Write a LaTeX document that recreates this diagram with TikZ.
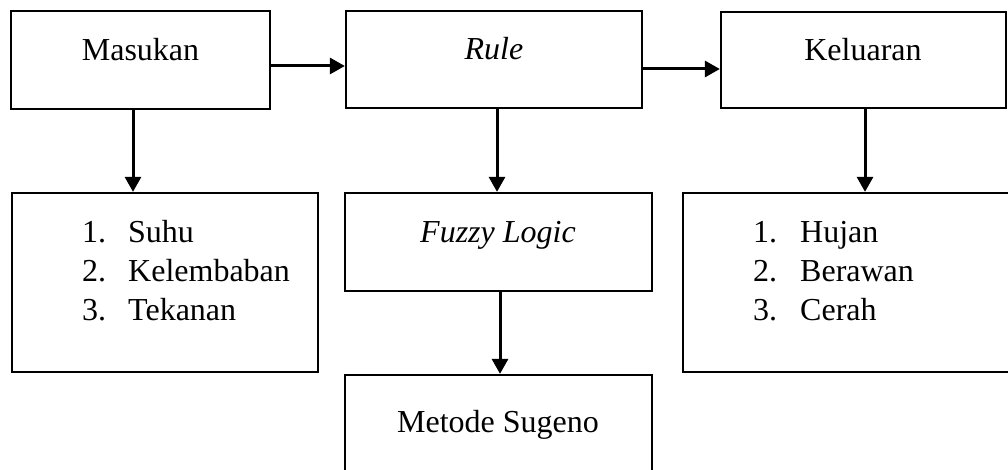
\documentclass[tikz,border=0pt]{standalone}
\usepackage{fontspec}
\setmainfont{Liberation Serif}
\usetikzlibrary{arrows.meta}
\begin{document}
\begin{tikzpicture}[x=1pt,y=-1pt,
  box/.style={draw=black,line width=2.3pt,rectangle,inner sep=0pt},
  lbl/.style={anchor=base,inner sep=0pt,font=\fontsize{32}{39}\selectfont},
  itm/.style={anchor=base west,inner sep=0pt,font=\fontsize{32}{39}\selectfont},
  conn/.style={line width=3pt,-{Triangle[length=15pt,width=16pt]}}]
\useasboundingbox (0,0) rectangle (1008,470);
\begin{scope}
\clip (0,0) rectangle (1008,470);
% boxes
\node[box,minimum width=259pt,minimum height=98pt] (masukan) at (140.5,60) {};
\node[box,minimum width=296pt,minimum height=97pt] (rule) at (494,59.5) {};
\node[box,minimum width=285pt,minimum height=96pt] (keluaran) at (863.5,60) {};
\node[box,minimum width=306pt,minimum height=179pt] (suhu) at (165,282.5) {};
\node[box,minimum width=307pt,minimum height=98pt] (fuzzy) at (498.5,242) {};
\node[box,minimum width=307pt,minimum height=110pt] (sugeno) at (498.5,430) {};
\node[box,minimum width=340pt,minimum height=179pt] (hujan) at (853,282.5) {};
% texts
\node[lbl] (tmasukan) at (140.5,61) {Masukan};
\node[lbl] (trule) at (494,60) {\itshape Rule};
\node[lbl] (tkeluaran) at (863,61) {Keluaran};
\node[lbl] (tfuzzy) at (498,242) {\itshape Fuzzy Logic};
\node[lbl] (tsugeno) at (498,432) {Metode Sugeno};
\node[itm] (s1n) at (82,242) {1.};
\node[itm] (s1) at (128,242) {Suhu};
\node[itm] (s2n) at (82,281) {2.};
\node[itm] (s2) at (128,281) {Kelembaban};
\node[itm] (s3n) at (82,320) {3.};
\node[itm] (s3) at (128,320) {Tekanan};
\node[itm] (h1n) at (753,242) {1.};
\node[itm] (h1) at (800,242) {Hujan};
\node[itm] (h2n) at (753,281) {2.};
\node[itm] (h2) at (800,281) {Berawan};
\node[itm] (h3n) at (753,320) {3.};
\node[itm] (h3) at (800,320) {Cerah};
% connectors
\draw[conn] ([yshift=-6pt]masukan.east) -- ([yshift=-6pt]masukan.east -| rule.west);
\draw[conn] ([yshift=-9.5pt]rule.east) -- ([yshift=-9.5pt]rule.east -| keluaran.west);
\draw[conn] ([xshift=-7.5pt]masukan.south) -- ([xshift=-7.5pt]masukan.south |- suhu.north);
\draw[conn] ([xshift=3pt]rule.south) -- ([xshift=3pt]rule.south |- fuzzy.north);
\draw[conn] ([xshift=1.5pt]keluaran.south) -- ([xshift=1.5pt]keluaran.south |- hujan.north);
\draw[conn] ([xshift=1.5pt]fuzzy.south) -- ([xshift=1.5pt]fuzzy.south |- sugeno.north);
\end{scope}
\end{tikzpicture}
\end{document}
